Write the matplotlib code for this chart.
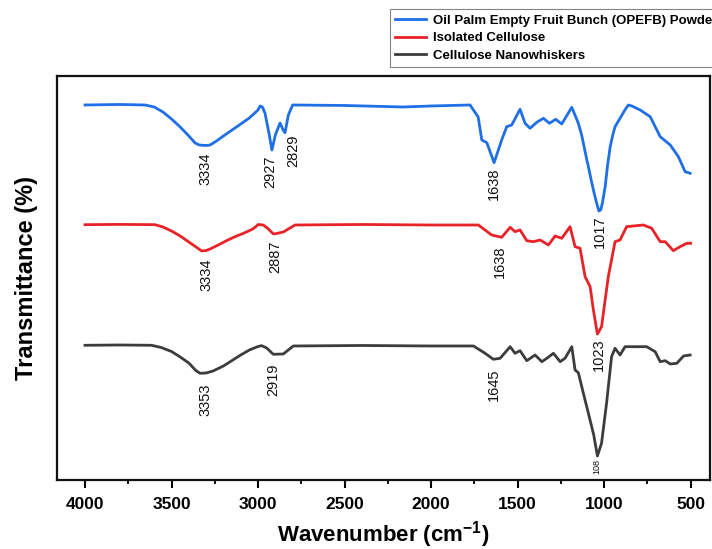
import matplotlib
matplotlib.use("Agg")
import matplotlib.pyplot as plt
from matplotlib.ticker import MultipleLocator

plt.rcParams['font.family'] = ['Liberation Sans', 'DejaVu Sans']
plt.rcParams['mathtext.fontset'] = 'custom'
plt.rcParams['mathtext.bf'] = 'Liberation Sans:bold'
plt.rcParams['mathtext.rm'] = 'Liberation Sans'

# ---- data (wavenumber cm^-1, transmittance a.u.) ----
opefb_wn = [4000, 3800, 3653, 3600, 3550, 3500, 3450, 3400, 3364, 3340, 3300, 3277,
            3240, 3200, 3150, 3100, 3050, 3000, 2988, 2975, 2960,
            2935, 2920, 2900, 2873, 2855, 2844, 2825, 2800, 2500, 2162, 2000, 1775,
            1728, 1707, 1678, 1636, 1592, 1563, 1534, 1486, 1457, 1428, 1389, 1351,
            1316, 1280, 1245, 1187, 1149, 1130, 1120, 1100, 1091, 1075, 1062, 1045,
            1030, 1020, 1010, 994, 980, 965, 950, 937, 908, 880,
            860, 840, 792, 734, 676, 618, 571, 532, 503]
opefb_t = [375, 375.5, 375, 373, 368, 361, 353, 344, 337, 335, 334.5, 335,
           339, 344, 350, 356, 362, 370, 374, 373, 367,
           345, 330, 345, 357, 350, 347.3, 365, 375, 374.5, 373, 374, 375,
           363, 340, 337.3, 317.3, 340, 353.3, 355, 370.7, 356.7, 351.7, 357.7, 361.7,
           356.7, 360.7, 356, 372.7, 356.7, 345, 336.7, 320, 313.3, 300, 290, 278,
           269, 270, 277, 293.3, 315, 333.3, 345, 353.3, 361.7, 370,
           375, 374, 370, 363.3, 343.3, 335, 323.3, 308.3, 306.7]

cell_wn = [4000, 3800, 3595, 3550, 3500, 3450, 3400, 3350, 3326, 3300, 3277, 3230,
           3180, 3130, 3080, 3030, 2998, 2970, 2940, 2915, 2906,
           2854, 2786, 2400, 2000, 1727, 1650, 1592, 1543, 1515, 1486, 1447, 1409,
           1370, 1322, 1283, 1245, 1197, 1168, 1139, 1110, 1081, 1062, 1039, 1015,
           976, 937, 908, 870, 773, 725, 676, 647, 600, 561, 522, 500]
cell_t = [255.3, 255.6, 255.3, 253, 249, 244, 238, 232, 229, 229.5, 231, 235,
          239.5, 243.5, 247, 251, 255.5, 255, 251, 246.5, 246,
          248, 255, 255.5, 255, 255, 245, 242.7, 252.7, 248.3, 250, 239.3, 238.3,
          240, 235, 244, 241.7, 253.3, 233.3, 231.7, 203.3, 193.3, 170, 146, 153.3,
          203.3, 238.3, 240, 253.3, 255, 251.7, 238.3, 238.3, 229.3, 233.3, 236.7, 236.7]

cnw_wn = [4000, 3800, 3615, 3560, 3500, 3450, 3400, 3360, 3335, 3300, 3260, 3200,
          3150, 3100, 3050, 3000, 2979, 2950, 2912,
          2854, 2796, 2400, 2000, 1755, 1688, 1640, 1601, 1543, 1515, 1486, 1447,
          1399, 1360, 1331, 1293, 1254, 1226, 1187, 1168, 1149, 1120, 1091, 1060,
          1039, 1015, 986, 957, 937, 908, 879, 754, 705, 676, 647, 618, 580, 541, 503]
cnw_t = [134.7, 135, 134.7, 132.5, 128.5, 123, 117, 109.5, 106.7, 107, 109, 114,
         119.5, 125, 130, 133.5, 134.3, 132, 125.7,
         126, 134, 134.5, 134, 134, 126.7, 120.7, 121.7, 133.3, 126.7, 129.3, 119.3,
         125, 118.3, 121.7, 126.7, 118.3, 121.7, 133.3, 110, 107.3, 86.7, 66.7, 45,
         24, 36.7, 76.7, 123.3, 131.7, 125, 133.3, 133.3, 128.3, 118.3, 119.3, 116, 116.7, 124, 125]

series_names = ["Oil Palm Empty Fruit Bunch (OPEFB) Powder", "Isolated Cellulose",
                "Cellulose Nanowhiskers"]
series_colors = ["#1f6fe6", "#e82328", "#3c3c3c"]

# peak labels: (text, x, y, fontsize)
peak_labels = [
    ("3334", 3301, 311, 10.5), ("2927", 2931, 308, 10.5), ("2829", 2796, 329, 10.5),
    ("1638", 1640, 296, 10.5), ("1017", 1023, 248, 10.5),
    ("3334", 3297, 205, 10.5), ("2887", 2902, 223, 10.5), ("1638", 1601, 218, 10.5),
    ("1023", 1033, 125, 10.5),
    ("3353", 3301, 80, 10.5), ("2919", 2915, 100, 10.5), ("1645", 1640, 95, 10.5),
    ("108", 1041, 13, 6.5),
]

fig = plt.figure(figsize=(7.12, 5.49), dpi=100)
ax = fig.add_axes([0.0805, 0.1257, 0.9165, 0.7359])

lines = []
for wn, t, name, c in zip([opefb_wn, cell_wn, cnw_wn], [opefb_t, cell_t, cnw_t],
                          series_names, series_colors):
    ln, = ax.plot(wn, t, color=c, lw=2.0, label=name, solid_joinstyle='round')
    lines.append(ln)

for txt, x, y, fs in peak_labels:
    ax.text(x, y, txt, rotation=90, ha='center', va='center', fontsize=fs, color='#111111')

ax.set_xlim(4160, 389)
ax.set_ylim(0, 404)
ax.set_yticks([])
ax.xaxis.set_major_locator(MultipleLocator(500))
ax.xaxis.set_minor_locator(MultipleLocator(250))
ax.tick_params(axis='x', which='major', direction='out', length=6, width=1.5,
               labelsize=12.5, pad=6)
ax.tick_params(axis='x', which='minor', direction='out', length=3, width=1.3)
for lab in ax.get_xticklabels():
    lab.set_fontweight('bold')
for sp in ax.spines.values():
    sp.set_linewidth(1.6)
    sp.set_color('#111111')

ax.set_xlabel("Wavenumber (cm$^{\\mathbf{-1}}$)", fontsize=16, fontweight='bold', labelpad=5)
ax.set_ylabel("Transmittance (%)", fontsize=17, fontweight='bold', labelpad=14)

leg = fig.legend(handles=lines, loc='upper left', bbox_to_anchor=(390 / 712, 1 - 9 / 549),
                 borderaxespad=0.0,
                 prop={'weight': 'bold', 'size': 9.5}, frameon=True, fancybox=False,
                 edgecolor='#666666', handlelength=2.3, handletextpad=0.55,
                 labelspacing=0.42, borderpad=0.4)
leg.get_frame().set_linewidth(0.8)

fig.savefig("out.png", dpi=100)
